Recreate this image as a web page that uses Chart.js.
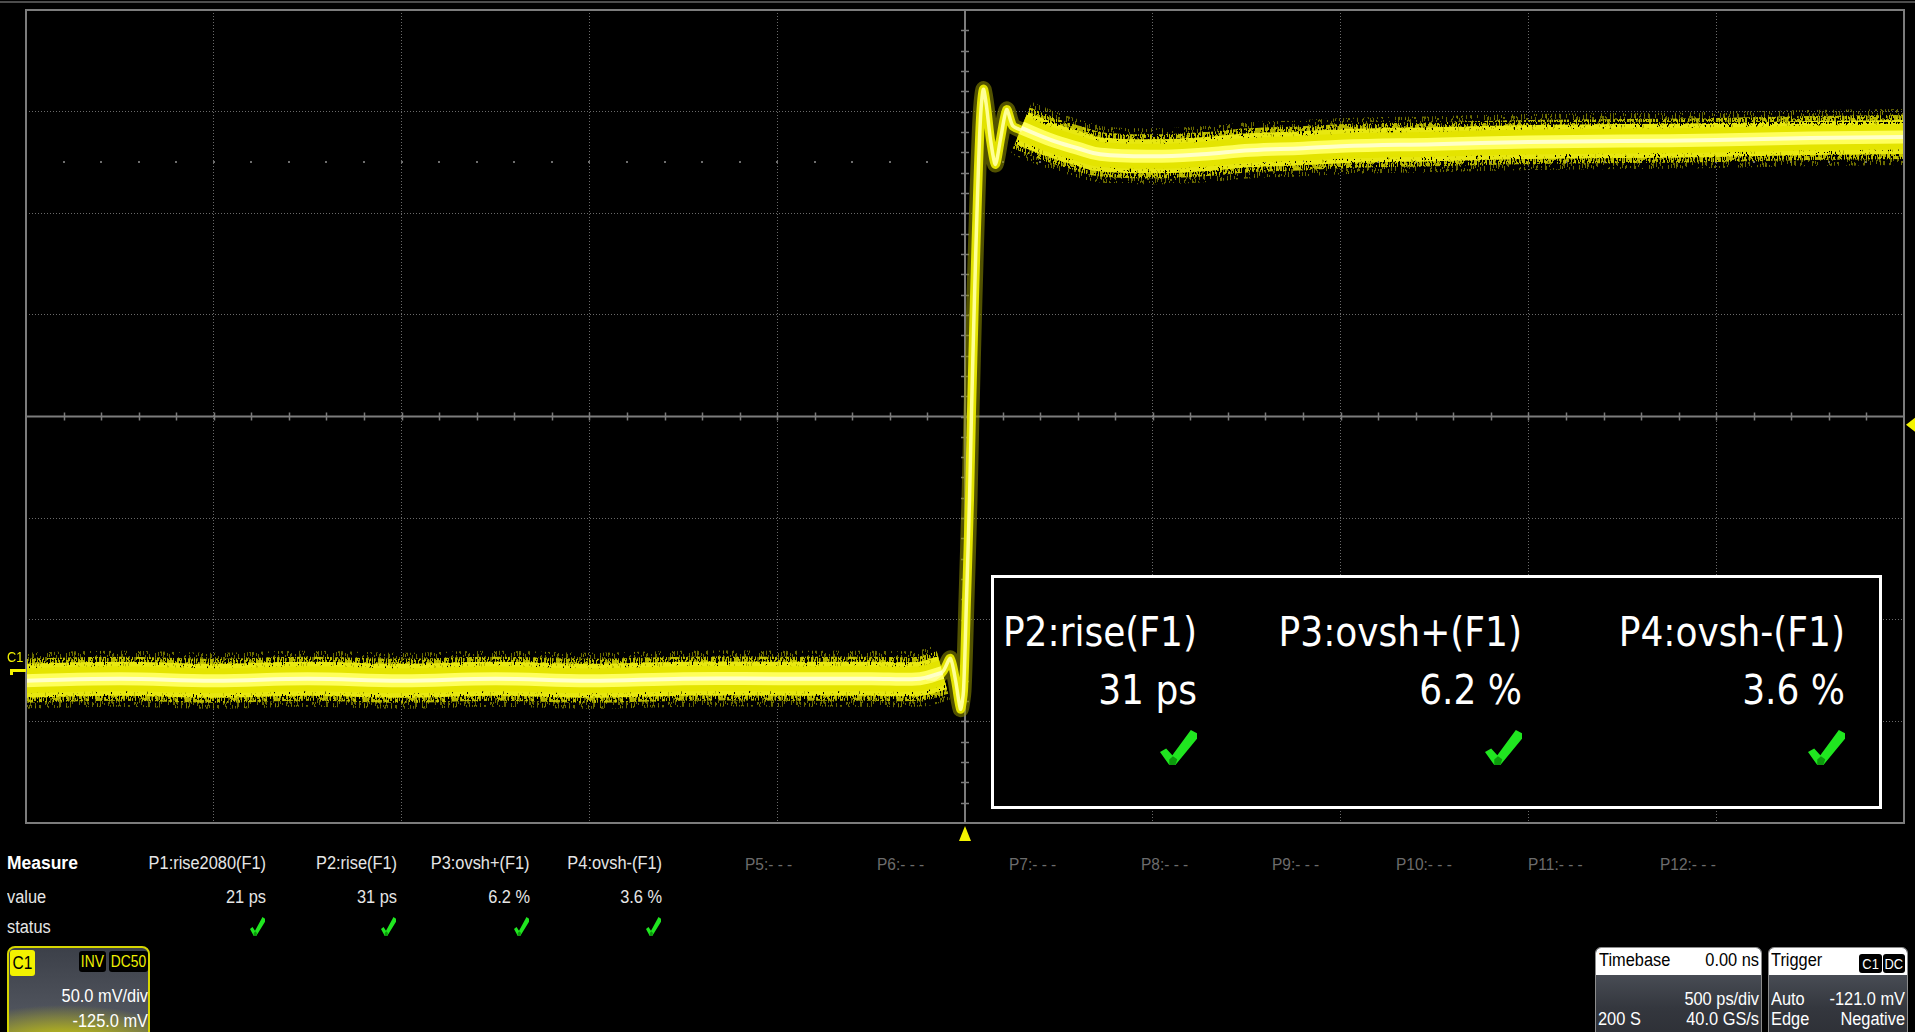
<!DOCTYPE html>
<html>
<head>
<meta charset="utf-8">
<title>C1 step response</title>
<script src="https://cdn.jsdelivr.net/npm/chart.js@4.4.1/dist/chart.umd.min.js"></script>
<style>
    html, body { margin: 0; padding: 0; background: #000; width: 1915px; height: 1032px; overflow: hidden; }
    body { position: relative; font-family: "Liberation Sans Narrow", "Liberation Sans", "DejaVu Sans Condensed", sans-serif; color: #e6e6e6; }
    #plot-wrap { position: absolute; left: 0; top: 0; width: 1915px; height: 845px; }
    .t { position: absolute; white-space: nowrap; line-height: 1; }
    .big { font-family: "DejaVu Sans Condensed", "Liberation Sans Narrow", sans-serif; color: #fff; }
    #big-meas { position: absolute; left: 991px; top: 575px; width: 885px; height: 228px; border: 3px solid #fff; background: #000; }
    .panel { position: absolute; overflow: hidden; }
    #c1-box { left: 7px; top: 946px; width: 139px; height: 100px; border: 2px solid #d6d600; border-radius: 8px;
        background: radial-gradient(ellipse 120% 60% at 40% 105%, #e6e600 0%, #a4a428 40%, rgba(90,94,104,0) 80%), linear-gradient(#3c4049, #5b5f68); }
    #tb-box { left: 1595px; top: 947px; width: 165px; height: 100px; }
    #tr-box { left: 1768px; top: 947px; width: 138px; height: 100px; }
    .scope-panel { border: 1px solid #8c8c8c; border-radius: 6px; background: linear-gradient(#5a5e66 0%, #464a52 30%, #34373e 60%, #2b2d33 100%); }
    .scope-panel .head { position: absolute; left: 0; top: 0; right: 0; height: 27px; background: #fff; border-radius: 5px 5px 0 0; }
    .tag { position: absolute; display: flex; align-items: center; justify-content: center; line-height: 1; border-radius: 3px; }
</style>
</head>
<body>
<div id="plot-wrap"><canvas id="scopeChart"></canvas></div>
<div id="big-meas"></div>
<div id="c1-box" class="panel"></div>
<div id="tb-box" class="panel scope-panel"><div class="head"></div></div>
<div id="tr-box" class="panel scope-panel"><div class="head"></div></div>

<script>
/* ══════════════════════════════════════════════════════════════
   Scope capture · C1 step edge (INV, 50 mV/div, 500 ps/div)
══════════════════════════════════════════════════════════════ */

// Screen: 10 div x 500 ps, 8 div x 50 mV (offset -125 mV -> centre 125 mV)
const TIME_MIN = -2500, TIME_MAX = 2500;
const VOLT_MIN = -75, VOLT_MAX = 325;
const X_GRID = [-2500, -2000, -1500, -1000, -500, 0, 500, 1000, 1500, 2000, 2500];
const Y_GRID = [-75, -25, 25, 75, 125, 175, 225, 275, 325];
const X_CENTER = 0, Y_CENTER = 125;
const TRIG_TIME = 0;
const TRIG_LEVEL = 121;
const GROUND_LEVEL = 0;
const DOT_LEVELS = [0, 250];

// Trace (ps, mV)
const LOW_T = [-2500, -2250, -2000, -1750, -1500, -1250, -1000, -750, -500, -250, -120, -60];
const LOW_V = [-5, -4, -5, -4, -5, -4, -5, -4, -4, -4, -4, -1];

const EDGE_T = [-100, -79, -57, -39, -25, -12, -4, 4, 12, 17, 25, 33, 41, 49, 57, 68, 81, 95, 111, 127, 148];
const EDGE_V = [-4, -4, 0, 6, -5, -19, -10, 35, 84, 125, 182, 232, 271, 286, 278, 261, 249, 262, 276, 268, 266];

const HIGH_T = [150, 230, 300, 360, 500, 630, 760, 900, 1000, 1250, 1500, 1750, 2000, 2250, 2500];
const HIGH_V = [267, 261, 257, 254, 253, 254, 256, 257, 258, 259, 260, 260.5, 261, 262, 262.5];

// Measurements
const MEAS_NAMES = ['P1:rise2080(F1)', 'P2:rise(F1)', 'P3:ovsh+(F1)', 'P4:ovsh-(F1)'];
const MEAS_VALUES = ['21 ps', '31 ps', '6.2 %', '3.6 %'];
const MEAS_EMPTY = ['P5:- - -', 'P6:- - -', 'P7:- - -', 'P8:- - -', 'P9:- - -', 'P10:- - -', 'P11:- - -', 'P12:- - -'];
const BIG_MEAS = [1, 2, 3];

// ══════════════════════════════════════════════════════════════
// LAYOUT (pixels)
// ══════════════════════════════════════════════════════════════
const MEAS_RIGHT = [266, 397, 530, 662];
const EMPTY_LEFT = [745, 877, 1009, 1141, 1272, 1396, 1528, 1660];
const BIG_RIGHT = [1197, 1522, 1845];

// persistence-like look: speckled streak textures for the outer band
function streaks(color, density, seed, maxLen) {
    const W = 89, H = 61;
    const c = document.createElement('canvas');
    c.width = W; c.height = H;
    const g = c.getContext('2d');
    g.fillStyle = color;
    let s = seed;
    const next = () => (s = (s * 16807) % 2147483647) / 2147483647;
    for (let x = 0; x < W; x++)
        for (let y = 0; y < H; y += 3)
            if (next() < density) g.fillRect(x, y + Math.floor(next() * 3), 1, 2 + Math.floor(next() * maxLen));
    return g.createPattern(c, 'repeat');
}

const BAND_LAYERS = [
    { width: 56, color: streaks('rgba(140,140,0,0.75)', 0.18, 7, 4) },
    { width: 44, color: streaks('rgba(200,200,0,0.9)', 0.5, 11, 5) },
    { width: 34, color: streaks('#e8e810', 0.9, 23, 6) },
    { width: 25, color: '#e4e400' },
    { width: 13, color: '#ffff5a' },
    { width: 4, color: '#ffffc8' },
];
const EDGE_LAYERS = [
    { width: 16, color: 'rgba(150,150,0,0.55)' },
    { width: 9, color: '#e2e200' },
    { width: 3.5, color: '#ffff96' },
];

const pts = (ts, vs) => ts.map((t, i) => ({ x: t, y: vs[i] }));

function traceSets() {
    const sets = [];
    const low = pts(LOW_T, LOW_V), high = pts(HIGH_T, HIGH_V), edge = pts(EDGE_T, EDGE_V);
    BAND_LAYERS.forEach((l, i) => {
        [low, high].forEach(d => sets.push({
            data: d, borderColor: l.color, borderWidth: l.width, pointRadius: 0,
            tension: 0.4, borderCapStyle: 'butt', borderJoinStyle: 'round',
            clip: 0, order: BAND_LAYERS.length - i,
        }));
    });
    EDGE_LAYERS.forEach((l, i) => sets.push({
        data: edge, borderColor: l.color, borderWidth: l.width, pointRadius: 0,
        tension: 0.25, borderCapStyle: 'round', borderJoinStyle: 'round',
        clip: 0, order: EDGE_LAYERS.length - i,
    }));
    return sets;
}

// ══════════════════════════════════════════════════════════════
// SCOPE DECORATION PLUGIN (axes with ticks, frame, markers)
// ══════════════════════════════════════════════════════════════
const scopeDecor = {
    id: 'scopeDecor',
    beforeDatasetsDraw(chart) {
        const { ctx, chartArea: a, scales: { x, y } } = chart;
        const cx = x.getPixelForValue(X_CENTER), cy = y.getPixelForValue(Y_CENTER);
        ctx.save();
        // dotted reference rows
        ctx.fillStyle = '#6e6e6e';
        DOT_LEVELS.forEach(v => {
            const py = Math.round(y.getPixelForValue(v));
            for (let t = TIME_MIN + 100; t < TIME_MAX; t += 100)
                ctx.fillRect(Math.round(x.getPixelForValue(t)) - 1, py - 1, 2, 2);
        });
        // centre axes
        ctx.strokeStyle = '#7c7c7c';
        ctx.lineWidth = 2;
        ctx.beginPath();
        ctx.moveTo(a.left, cy); ctx.lineTo(a.right, cy);
        ctx.moveTo(cx, a.top); ctx.lineTo(cx, a.bottom);
        ctx.stroke();
        ctx.lineWidth = 1.5;
        ctx.beginPath();
        for (let t = TIME_MIN + 100; t < TIME_MAX; t += 100) {
            const px = Math.round(x.getPixelForValue(t)) + 0.5;
            ctx.moveTo(px, cy - 4); ctx.lineTo(px, cy + 4);
        }
        for (let v = VOLT_MIN + 10; v < VOLT_MAX; v += 10) {
            const py = Math.round(y.getPixelForValue(v)) + 0.5;
            ctx.moveTo(cx - 4, py); ctx.lineTo(cx + 4, py);
        }
        ctx.stroke();
        ctx.restore();
    },
    afterDatasetsDraw(chart) {
        const { ctx, chartArea: a, scales: { x, y } } = chart;
        ctx.save();
        // top bezel line + frame
        ctx.fillStyle = '#4c4c4c';
        ctx.fillRect(0, 1, chart.width, 2);
        ctx.strokeStyle = '#7c7c7c';
        ctx.lineWidth = 2;
        ctx.strokeRect(a.left, a.top, a.right - a.left, a.bottom - a.top);
        // trigger position (bottom) and level (right)
        ctx.fillStyle = '#f4f400';
        const tx = x.getPixelForValue(TRIG_TIME);
        ctx.beginPath();
        ctx.moveTo(tx, a.bottom + 3); ctx.lineTo(tx + 6, a.bottom + 18); ctx.lineTo(tx - 6, a.bottom + 18);
        ctx.fill();
        const ty = y.getPixelForValue(TRIG_LEVEL);
        ctx.beginPath();
        ctx.moveTo(a.right + 2, ty); ctx.lineTo(chart.width, ty - 7); ctx.lineTo(chart.width, ty + 7);
        ctx.fill();
        // channel ground marker
        const gy = Math.round(y.getPixelForValue(GROUND_LEVEL));
        ctx.fillRect(10, gy - 2, a.left - 10, 3);
        ctx.fillRect(10, gy - 2, 3, 6);
        ctx.font = '15px "Liberation Sans", sans-serif';
        ctx.textBaseline = 'alphabetic';
        ctx.save();
        ctx.translate(7, gy - 9);
        ctx.scale(0.85, 1);
        ctx.fillText('C1', 0, 0);
        ctx.restore();
        ctx.restore();
    },
};

// ══════════════════════════════════════════════════════════════
// CHART
// ══════════════════════════════════════════════════════════════
new Chart(document.getElementById('scopeChart'), {
    type: 'line',
    data: { datasets: traceSets() },
    options: {
        responsive: true,
        maintainAspectRatio: false,
        animation: false,
        events: [],
        layout: { padding: { left: 26, top: 10, right: 11, bottom: 22 } },
        plugins: { legend: { display: false }, tooltip: { enabled: false } },
        scales: {
            x: {
                type: 'linear', min: TIME_MIN, max: TIME_MAX,
                afterBuildTicks: s => { s.ticks = X_GRID.map(v => ({ value: v })); },
                ticks: { display: false },
                grid: { color: '#6a6a6a', lineWidth: 1, drawTicks: false },
                border: { display: false, dash: [1, 2] },
            },
            y: {
                type: 'linear', min: VOLT_MIN, max: VOLT_MAX,
                afterBuildTicks: s => { s.ticks = Y_GRID.map(v => ({ value: v })); },
                ticks: { display: false },
                grid: { color: '#6a6a6a', lineWidth: 1, drawTicks: false },
                border: { display: false, dash: [1, 2] },
            },
        },
    },
    plugins: [scopeDecor],
});

// ══════════════════════════════════════════════════════════════
// TEXT PANELS
// ══════════════════════════════════════════════════════════════
function put(txt, o) {
    const d = document.createElement('div');
    d.className = 't' + (o.cls ? ' ' + o.cls : '');
    d.textContent = txt;
    const size = o.size || 18;
    d.style.fontSize = size + 'px';
    d.style.top = (o.base - Math.round(size * 0.85)) + 'px';
    if (o.right != null) d.style.right = (1915 - o.right) + 'px';
    else d.style.left = o.left + 'px';
    if (o.color) d.style.color = o.color;
    if (o.weight) d.style.fontWeight = o.weight;
    const sx = o.sx || (o.cls ? 1 : 0.91);
    if (sx !== 1) {
        d.style.transform = `scaleX(${sx})`;
        d.style.transformOrigin = o.right != null ? 'right' : 'left';
    }
    document.body.appendChild(d);
    return d;
}

function tag(txt, left, top, w, h, bg, fg, size) {
    const d = document.createElement('div');
    d.className = 'tag';
    d.innerHTML = `<span style="display:inline-block;transform:scaleX(0.86)">${txt}</span>`;
    Object.assign(d.style, {
        left: left + 'px', top: top + 'px', width: w + 'px', height: h + 'px',
        background: bg, color: fg, fontSize: size + 'px',
    });
    document.body.appendChild(d);
}

function check(right, top, w, h) {
    document.body.insertAdjacentHTML('beforeend',
        `<svg width="${w}" height="${h}" viewBox="0 0 12 16" preserveAspectRatio="none"
          style="position:absolute;left:${right - w}px;top:${top}px">
          <polygon points="0,10 2,8.5 4,11.5 10,0 12,1.5 12,4 5,16 3,16" fill="#20e620"/>
          <polygon points="3,13.5 4.2,12 5.6,13.4 5,16 3,16" fill="#0c9a0c"/></svg>`);
}

// zoomed measurement box
BIG_MEAS.forEach((mi, k) => {
    put(MEAS_NAMES[mi], { right: BIG_RIGHT[k], base: 646, size: 40, cls: 'big' });
    put(MEAS_VALUES[mi], { right: BIG_RIGHT[k], base: 704, size: 40, cls: 'big' });
    check(BIG_RIGHT[k], 730, 37, 35);
});

// measure table
put('Measure', { left: 7, base: 869, size: 18, weight: 'bold', color: '#fff', sx: 0.97 });
put('value', { left: 7, base: 903, size: 18 });
put('status', { left: 7, base: 933, size: 18 });
MEAS_NAMES.forEach((n, i) => {
    put(n, { right: MEAS_RIGHT[i], base: 869, size: 18 });
    put(MEAS_VALUES[i], { right: MEAS_RIGHT[i], base: 903, size: 18 });
    check(MEAS_RIGHT[i] - 1, 917, 15, 19);
});
MEAS_EMPTY.forEach((n, i) => put(n, { left: EMPTY_LEFT[i], base: 870, size: 17, color: '#6c6c6c' }));

// channel descriptor
tag('C1', 10, 950, 25, 26, '#f2f200', '#000', 18);
tag('INV', 79, 951, 27, 21, '#000', '#f0f000', 16);
tag('DC50', 109, 951, 39, 21, '#000', '#f0f000', 16);
put('50.0 mV/div', { right: 148, base: 1002, size: 18, color: '#fff' });
put('-125.0 mV', { right: 148, base: 1027, size: 18, color: '#fff' });

// timebase
put('Timebase', { left: 1599, base: 966, size: 18, color: '#000' });
put('0.00 ns', { right: 1759, base: 966, size: 18, color: '#000' });
put('500 ps/div', { right: 1759, base: 1005, size: 18, color: '#fff' });
put('200 S', { left: 1598, base: 1025, size: 18, color: '#fff' });
put('40.0 GS/s', { right: 1759, base: 1025, size: 18, color: '#fff' });

// trigger
put('Trigger', { left: 1771, base: 966, size: 18, color: '#000' });
tag('C1', 1859, 954, 23, 19, '#000', '#fff', 15);
tag('DC', 1883, 954, 22, 19, '#000', '#fff', 15);
put('Auto', { left: 1771, base: 1005, size: 18, color: '#fff' });
put('-121.0 mV', { right: 1905, base: 1005, size: 18, color: '#fff' });
put('Edge', { left: 1771, base: 1025, size: 18, color: '#fff' });
put('Negative', { right: 1905, base: 1025, size: 18, color: '#fff' });
</script>
</body>
</html>
